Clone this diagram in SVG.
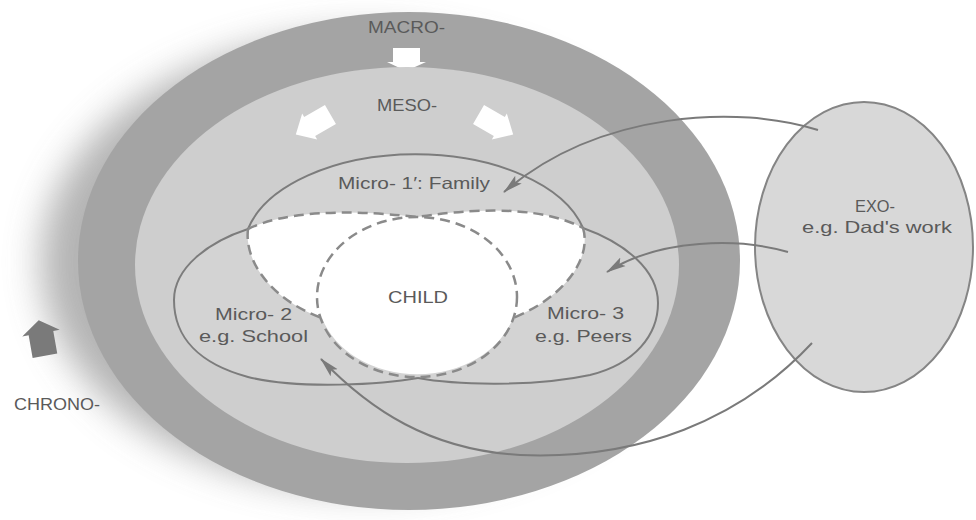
<svg xmlns="http://www.w3.org/2000/svg" width="976" height="520" viewBox="0 0 976 520">
  <defs>
    <style>
      .label { font-family: "Liberation Sans", Arial, sans-serif; font-size: 16.5px; fill: #5a5a5a; }
      .solid { fill: none; stroke: #7c7c7c; stroke-width: 2; }
      .dash { fill: none; stroke: #8a8a8a; stroke-width: 2.5; stroke-dasharray: 10 6; }
      .conn { fill: none; stroke: #7a7a7a; stroke-width: 2; marker-end: url(#arrowhead); }
      .block { fill: #ffffff; }
    </style>
    <filter id="haze" x="-20%" y="-20%" width="140%" height="140%">
      <feGaussianBlur stdDeviation="18"/>
    </filter>
    <marker id="arrowhead" viewBox="0 0 20 12" refX="19" refY="6" markerWidth="20" markerHeight="12" markerUnits="userSpaceOnUse" orient="auto">
      <path d="M0,1 L20,6 L0,11 L4,6 Z" fill="#7a7a7a"/>
    </marker>
  </defs>

  <rect width="976" height="520" fill="#ffffff"/>

  <!-- soft time shadow trailing the rings -->
  <ellipse cx="366" cy="262" rx="325" ry="228" fill="#a0a0a0" filter="url(#haze)" opacity="0.8"/>

  <g id="macro">
    <ellipse cx="409" cy="261" rx="331" ry="249" fill="#a4a4a4"/>
    <text class="label" x="368" y="33" textLength="77" lengthAdjust="spacingAndGlyphs">MACRO-</text>
    <polygon class="block" points="393,48 420,48 420,62 426,62 406,71 387,62 393,62"/>
  </g>

  <g id="meso">
    <ellipse cx="407" cy="265" rx="272" ry="198" fill="#cecece"/>
    <text class="label" x="377" y="111" textLength="60" lengthAdjust="spacingAndGlyphs">MESO-</text>
    <polygon class="block" transform="translate(314,124) rotate(150)" points="-19,-11 5,-11 5,-15 21,0 5,15 5,11 -19,11"/>
    <polygon class="block" transform="translate(495,124) rotate(30)" points="-19,-11 5,-11 5,-15 21,0 5,15 5,11 -19,11"/>
  </g>

  <!-- area covered by the three micro-systems -->
  <path id="micro-area" d="M248,229 A172,96 0 0 1 583,228 C625,243 658,270 658,303 C658,335 635,364 590,375 C530,388 450,384 418,378 C385,384 300,390 248,377 C200,364 174,338 174,300 C174,268 208,242 248,229 Z" fill="#d3d3d3"/>

  <!-- shared overlap around the child -->
  <path d="M248,229 Q300,204 417,217 Q530,200 583,228 C592,258 565,297 513,318 A100,80 0 0 1 322,318 C272,300 244,262 248,229 Z" fill="#ffffff"/>

  <g id="micro1">
    <path class="solid" d="M248,229 A172,96 0 0 1 583,228"/>
    <path class="dash" d="M248,229 Q300,204 417,217 Q530,200 583,228"/>
    <text class="label" x="338" y="189" textLength="152" lengthAdjust="spacingAndGlyphs">Micro- 1′: Family</text>
  </g>

  <g id="micro2">
    <path class="solid" d="M248,229 C208,242 174,268 174,300 C174,338 200,364 248,377 C300,390 385,384 418,378"/>
    <path class="dash" d="M248,229 C244,262 272,300 322,318"/>
    <text class="label" x="215" y="320" textLength="77" lengthAdjust="spacingAndGlyphs">Micro- 2</text>
    <text class="label" x="199" y="342" textLength="109" lengthAdjust="spacingAndGlyphs">e.g. School</text>
  </g>

  <g id="micro3">
    <path class="solid" d="M418,378 C450,384 530,388 590,375 C635,364 658,335 658,303 C658,270 625,243 583,228"/>
    <path class="dash" d="M583,228 C592,258 565,297 513,318"/>
    <text class="label" x="547" y="319" textLength="77" lengthAdjust="spacingAndGlyphs">Micro- 3</text>
    <text class="label" x="535" y="342" textLength="97" lengthAdjust="spacingAndGlyphs">e.g. Peers</text>
  </g>

  <g id="child">
    <ellipse class="dash" cx="417" cy="297" rx="100" ry="80"/>
    <text class="label" x="388" y="303" textLength="60" lengthAdjust="spacingAndGlyphs">CHILD</text>
  </g>

  <g id="exo">
    <ellipse cx="864" cy="247" rx="109" ry="145" fill="#d8d8d8" stroke="#858585" stroke-width="2"/>
    <text class="label" x="855" y="212" textLength="40" lengthAdjust="spacingAndGlyphs">EXO-</text>
    <text class="label" x="802" y="233" textLength="150" lengthAdjust="spacingAndGlyphs">e.g. Dad's work</text>
  </g>

  <g id="chrono">
    <polygon transform="translate(42,339) rotate(-10)" points="0,-19 19,-6 12.5,-6 12.5,17 -12.5,17 -12.5,-6 -19,-6" fill="#7a7a7a"/>
    <text class="label" x="14" y="410" textLength="86" lengthAdjust="spacingAndGlyphs">CHRONO-</text>
  </g>

  <g id="connectors">
    <path class="conn" d="M818,130 C740,105 600,110 504,192"/>
    <path class="conn" d="M788,252 C740,238 660,238 607,272"/>
    <path class="conn" d="M812,343 C740,420 640,460 520,455 C430,450 370,410 321,359"/>
  </g>
</svg>
